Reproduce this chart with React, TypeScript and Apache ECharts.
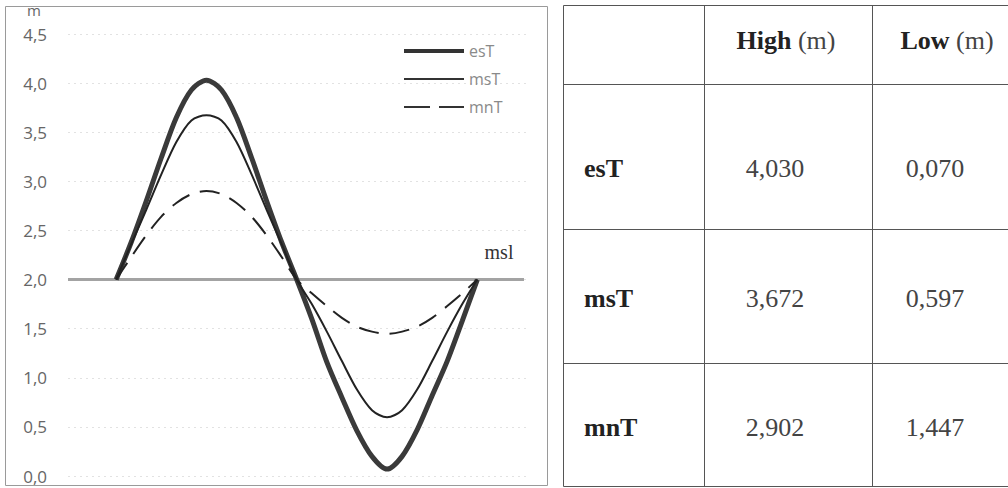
import { useEffect, useRef } from "react";
import * as echarts from "echarts";

// phase of the tide (arbitrary units, one full cycle = 12)
const phase = [
  0, 0.5, 1, 1.5, 2, 2.5, 3, 3.5, 4, 4.5, 5, 5.5, 6,
  6.5, 7, 7.5, 8, 8.5, 9, 9.5, 10, 10.5, 11, 11.5, 12,
];
const esT = [
  2.0, 2.38, 2.8, 3.24, 3.65, 3.93, 4.03, 3.93, 3.65, 3.24, 2.8, 2.38, 2.0,
  1.6, 1.16, 0.8, 0.46, 0.2, 0.07, 0.2, 0.47, 0.82, 1.17, 1.58, 2.0,
];
const msT = [
  2.0, 2.36, 2.71, 3.07, 3.4, 3.62, 3.672, 3.62, 3.4, 3.07, 2.71, 2.36, 2.0,
  1.75, 1.47, 1.17, 0.88, 0.67, 0.597, 0.67, 0.88, 1.17, 1.47, 1.75, 2.0,
];
const mnT = [
  2.0, 2.23, 2.45, 2.64, 2.78, 2.87, 2.902, 2.87, 2.78, 2.64, 2.45, 2.23, 2.0,
  1.86, 1.73, 1.61, 1.52, 1.47, 1.447, 1.47, 1.52, 1.61, 1.73, 1.86, 2.0,
];
const mslLevel = 2.0;
const mslSpan = [-1.6, 13.55];
const seriesNames = ["esT", "msT", "mnT"];

const tableHeaders = ["High", "Low"];
const tableUnit = "(m)";
const highValues = [4.03, 3.672, 2.902];
const lowValues = [0.07, 0.597, 1.447];

const fmt = (v: number, d: number) => v.toFixed(d).replace(".", ",");

export default function App() {
  const ref = useRef<HTMLDivElement>(null);
  useEffect(() => {
    if (!ref.current) return;
    const chart = echarts.init(ref.current, undefined, { renderer: "svg" });
    const serif = "'Liberation Serif', 'Times New Roman', serif";
    const sans = "'Open Sans', sans-serif";
    const lineColor = "#555";

    const rowLines = [5.5, 84.5, 229.5, 363.5, 486.5];
    const colLines = [563.5, 704.5, 872.5];
    const tableRight = 1012;
    const rowTextY = [168, 298, 427];
    const graphic: any[] = [];
    // left panel frame
    graphic.push({
      type: "rect",
      shape: { x: 5.5, y: 6.5, width: 542, height: 479 },
      style: { fill: "none", stroke: "#9a9a9a", lineWidth: 1 },
      silent: true,
      z: -1,
    });
    // axis unit
    graphic.push({
      type: "text",
      x: 34,
      y: 10,
      style: {
        text: "m",
        font: `15px ${sans}`,
        fill: "#666",
        align: "center",
        verticalAlign: "middle",
      },
    });
    rowLines.forEach((y) =>
      graphic.push({
        type: "line",
        shape: { x1: colLines[0], y1: y, x2: tableRight, y2: y },
        style: { stroke: lineColor, lineWidth: 1 },
      })
    );
    colLines.forEach((x) =>
      graphic.push({
        type: "line",
        shape: { x1: x, y1: rowLines[0], x2: x, y2: rowLines[rowLines.length - 1] },
        style: { stroke: lineColor, lineWidth: 1 },
      })
    );
    const headerX = [786, 947];
    tableHeaders.forEach((h, i) =>
      graphic.push({
        type: "text",
        x: headerX[i],
        y: 40,
        style: {
          text: `{b|${h}}{n| ${tableUnit}}`,
          align: "center",
          verticalAlign: "middle",
          rich: {
            b: { font: `bold 26px ${serif}`, fill: "#222" },
            n: { font: `26px ${serif}`, fill: "#444" },
          },
        },
      })
    );
    seriesNames.forEach((name, i) => {
      graphic.push({
        type: "text",
        x: 584,
        y: rowTextY[i],
        style: {
          text: name,
          font: `bold 26px ${serif}`,
          fill: "#222",
          align: "left",
          verticalAlign: "middle",
        },
      });
      graphic.push({
        type: "text",
        x: 775,
        y: rowTextY[i],
        style: {
          text: fmt(highValues[i], 3),
          font: `26px ${serif}`,
          fill: "#444",
          align: "center",
          verticalAlign: "middle",
        },
      });
      graphic.push({
        type: "text",
        x: 935,
        y: rowTextY[i],
        style: {
          text: fmt(lowValues[i], 3),
          font: `26px ${serif}`,
          fill: "#444",
          align: "center",
          verticalAlign: "middle",
        },
      });
    });
    // msl label
    graphic.push({
      type: "text",
      x: 499,
      y: 252,
      style: {
        text: "msl",
        font: `20px ${serif}`,
        fill: "#333",
        align: "center",
        verticalAlign: "middle",
      },
    });

    const curveData = (vals: number[]) => phase.map((p, i) => [p, vals[i]]);

    chart.setOption({
      animation: false,
      color: ["#a3a3a3", "#3a3a3a", "#222", "#222"],
      grid: { left: 68, right: 478, top: 34, bottom: 12 },
      xAxis: {
        type: "value",
        min: -1.6,
        max: 13.75,
        show: false,
      },
      yAxis: {
        type: "value",
        min: 0,
        max: 4.5,
        interval: 0.5,
        axisLine: { show: false },
        axisTick: { show: false },
        axisLabel: {
          margin: 21,
          color: "#666",
          fontFamily: sans,
          fontSize: 17,
          formatter: (v: number) => fmt(v, 1),
        },
        splitLine: { lineStyle: { color: "#e2e2e2", type: [2, 4], width: 1 } },
      },
      legend: {
        orient: "vertical",
        left: 402,
        top: 43,
        padding: 0,
        itemWidth: 60,
        itemHeight: 14,
        itemGap: 12,
        textStyle: { color: "#8a8a8a", fontFamily: sans, fontSize: 16 },
        data: [
          { name: "esT", itemStyle: { opacity: 0 }, lineStyle: { width: 4, color: "#333" } },
          { name: "msT", itemStyle: { opacity: 0 }, lineStyle: { width: 2, color: "#333" } },
          { name: "mnT", itemStyle: { opacity: 0 }, lineStyle: { width: 2, color: "#333", type: [26, 9] } },
        ],
      },
      series: [
        {
          name: "msl",
          type: "line",
          data: [
            [mslSpan[0], mslLevel],
            [mslSpan[1], mslLevel],
          ],
          showSymbol: false,
          symbol: "none",
          lineStyle: { color: "#a3a3a3", width: 3 },
          silent: true,
          z: 1,
        },
        {
          name: "esT",
          type: "line",
          data: curveData(esT),
          smooth: 0.3,
          symbol: "none",
          itemStyle: { color: "#3a3a3a" },
          lineStyle: { color: "#3a3a3a", width: 5 },
          z: 3,
        },
        {
          name: "msT",
          type: "line",
          data: curveData(msT),
          smooth: 0.3,
          symbol: "none",
          itemStyle: { color: "#222" },
          lineStyle: { color: "#222", width: 2 },
          z: 4,
        },
        {
          name: "mnT",
          type: "line",
          data: curveData(mnT),
          smooth: 0.3,
          symbol: "none",
          itemStyle: { color: "#222" },
          lineStyle: { color: "#222", width: 2, type: [20, 11] },
          z: 4,
        },
      ],
      graphic,
    });
    return () => chart.dispose();
  }, []);
  return (
    <div
      ref={ref}
      style={{ position: "fixed", left: 0, top: 0, width: 1008, height: 488, background: "#fff" }}
    />
  );
}
